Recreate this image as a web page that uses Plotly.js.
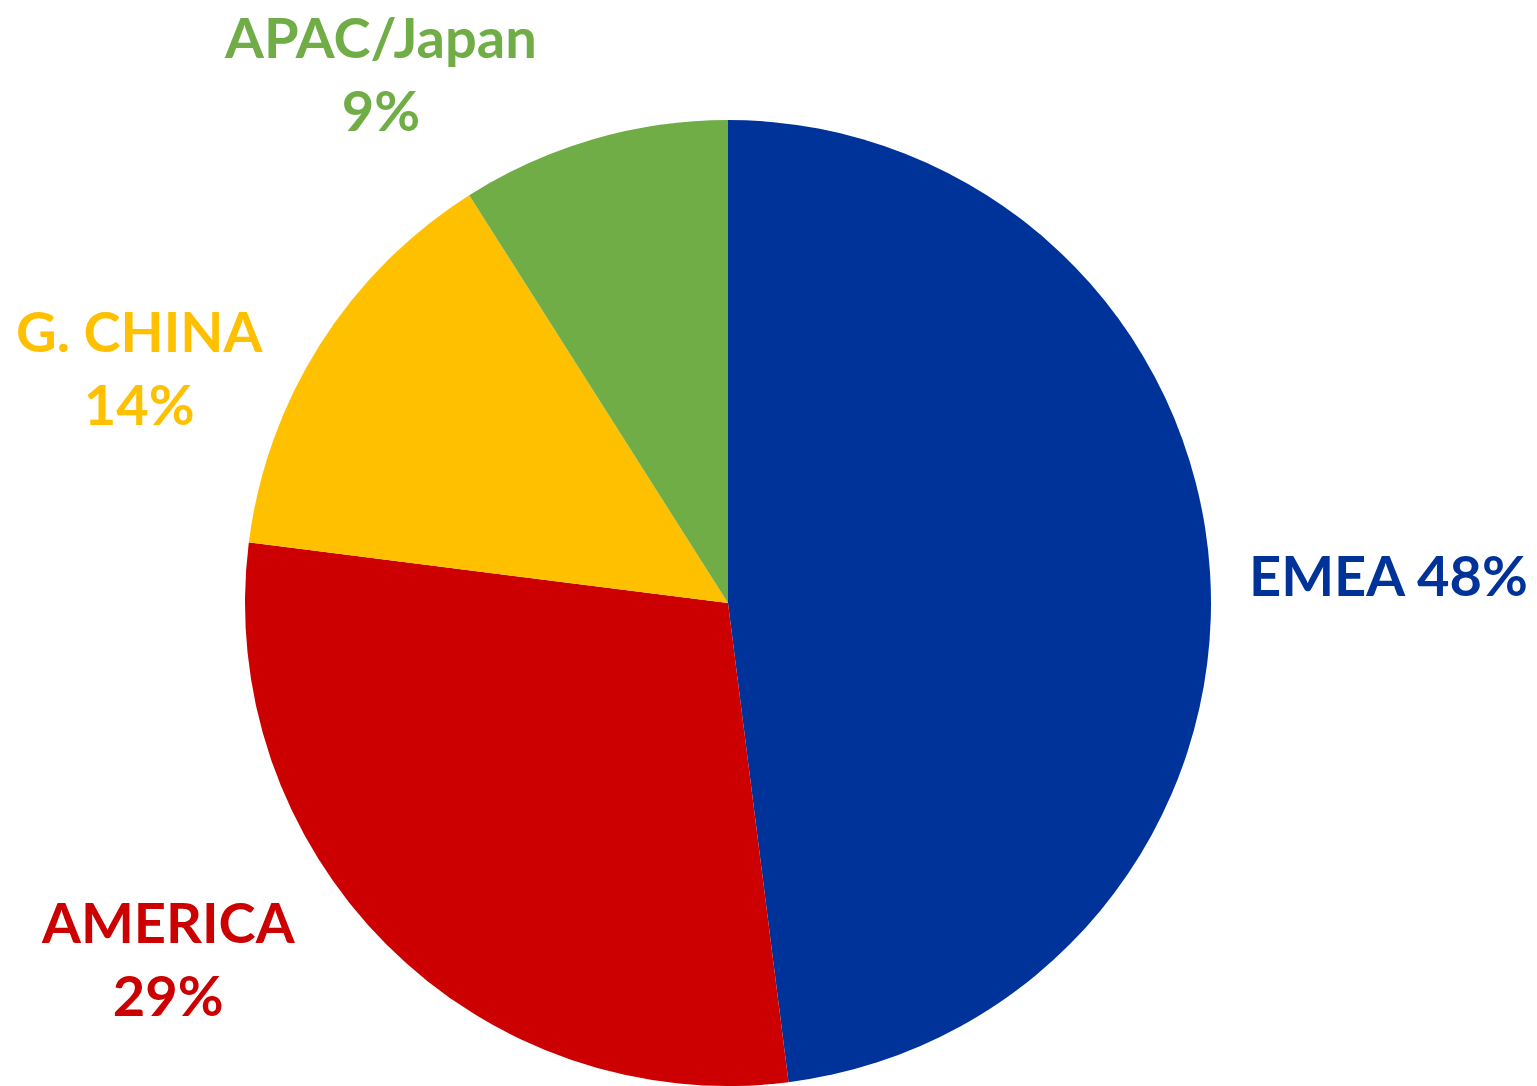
<!DOCTYPE html>
<html>
<head>
<meta charset="utf-8">
<script src="https://cdn.plot.ly/plotly-3.0.1.min.js"></script>
<style>html,body{margin:0;padding:0;background:#fff;}#chart{width:1537px;height:1086px;}</style>
</head>
<body>
<div id="chart"></div>
<script>
// Data
const regions = ["EMEA", "AMERICA", "G. CHINA", "APAC/Japan"];
const shares = [48, 29, 14, 9];
const colors = ["#003399", "#CC0000", "#FFC000", "#70AD47"];
// Label layout (paper coords, separate from data)
const labelX = [1388/1537, 168/1537, 140/1537, 380/1537];
const labelY = [1 - 574/1086, 1 - 958/1086, 1 - 367/1086, 1 - 73/1086];
const labelBreak = ["&nbsp;", "<br>", "<br>", "<br>"];

const W = 1537, H = 1086;
const cx = 728, cy = 603, r = 483;

const trace = {
  type: "pie",
  labels: regions,
  values: shares,
  sort: false,
  direction: "clockwise",
  rotation: 0,
  marker: { colors: colors, line: { width: 0 } },
  textinfo: "none",
  hoverinfo: "label+percent",
  showlegend: false,
  domain: { x: [(cx - r) / W, (cx + r) / W], y: [(H - cy - r) / H, (H - cy + r) / H] }
};

const total = shares.reduce((a, b) => a + b, 0);
const annotations = regions.map((name, i) => ({
  xref: "paper", yref: "paper",
  x: labelX[i], y: labelY[i],
  xanchor: "center", yanchor: "middle",
  showarrow: false,
  align: "center",
  text: "<b>" + name + labelBreak[i] + Math.round(shares[i] / total * 100) + "%</b>",
  font: { family: "Lato, 'Open Sans', sans-serif", size: 56, color: colors[i] }
}));

const layout = {
  width: W, height: H,
  margin: { l: 0, r: 0, t: 0, b: 0 },
  paper_bgcolor: "#ffffff",
  plot_bgcolor: "#ffffff",
  showlegend: false,
  annotations: annotations
};

Plotly.newPlot("chart", [trace], layout, { displayModeBar: false, staticPlot: true });
</script>
</body>
</html>
